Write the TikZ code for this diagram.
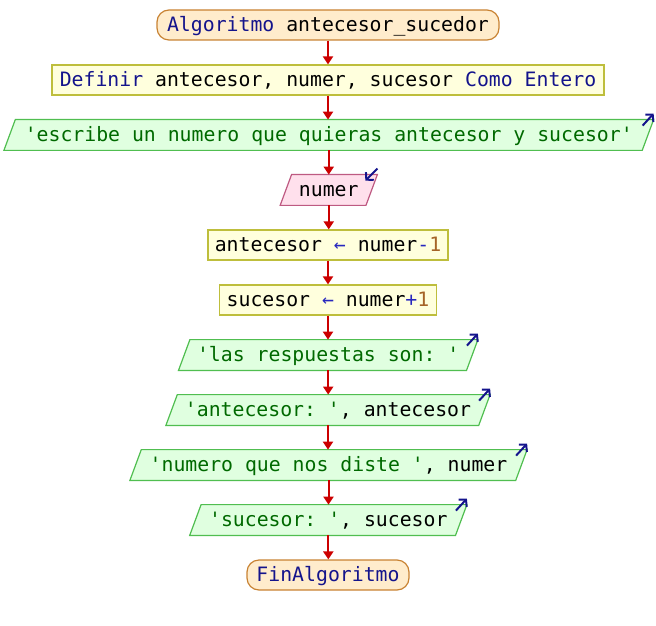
\documentclass[tikz,border=0pt]{standalone}
\usepackage{fontspec}
\setmonofont{DejaVu Sans Mono}
\usepackage{tikz}
\usetikzlibrary{arrows.meta,backgrounds}

\definecolor{kwblue}{RGB}{20,20,140}
\definecolor{opblue}{RGB}{40,40,190}
\definecolor{numbrown}{RGB}{165,100,40}
\definecolor{strgreen}{RGB}{0,105,0}
\definecolor{flowred}{RGB}{204,0,0}
\definecolor{termline}{RGB}{200,130,50}
\definecolor{termfill}{RGB}{255,236,204}
\definecolor{procline}{RGB}{190,190,60}
\definecolor{procfill}{RGB}{255,255,221}
\definecolor{outline}{RGB}{80,190,80}
\definecolor{outfill}{RGB}{224,255,224}
\definecolor{inline}{RGB}{190,90,130}
\definecolor{infill}{RGB}{255,224,236}

\newcommand{\kw}[1]{\textcolor{kwblue}{#1}}
\newcommand{\op}[1]{\textcolor{opblue}{#1}}
\newcommand{\nm}[1]{\textcolor{numbrown}{#1}}
\newcommand{\str}[1]{\textcolor{strgreen}{#1}}

\begin{document}
\begin{tikzpicture}[x=0.5pt,y=-0.5pt,
  every node/.style={font=\ttfamily\fontsize{9.9pt}{12pt}\selectfont,inner sep=0pt,
    minimum height=15pt,text height=8.7pt,text depth=2pt},
  termbox/.style={draw=termline,fill=termfill,rounded corners=6pt,line width=0.6pt,minimum width=#1},
  procbox/.style={draw=procline,fill=procfill,line width=0.6pt,minimum width=#1},
  iobox/.style={minimum width=#1},
  outshape/.style={draw=outline,fill=outfill,line width=0.6pt},
  inshape/.style={draw=inline,fill=infill,line width=0.6pt},
  flow/.style={draw=flowred,line width=1pt,-{Triangle[width=5pt,length=4pt]}},
  ioicon/.style={draw=kwblue,line width=1pt,-{Straight Barb[length=2.5pt,width=5.5pt]}}]
\useasboundingbox (0,0) rectangle (656,625);

\node[termbox=171pt] (start) at (328,25) {\kw{Algoritmo} antecesor\_sucedor};
\node[procbox=276pt] (def) at (328,80) {\kw{Definir} antecesor, numer, sucesor \kw{Como Entero}};
\node[iobox=318.75pt] (out1) at (328.75,135) {\str{'escribe un numero que quieras antecesor y sucesor'}};
\node[iobox=42.5pt] (in) at (328.75,190) {numer};
\node[procbox=120pt] (ant) at (328,245) {antecesor \op{←} numer\op{-}\nm{1}};
\node[procbox=108.5pt] (suc) at (328,300) {sucesor \op{←} numer\op{+}\nm{1}};
\node[iobox=143.6pt] (out2) at (328.2,355) {\str{'las respuestas son: '}};
\node[iobox=156pt] (out3) at (328,410) {\str{'antecesor: '}, antecesor};
\node[iobox=192.5pt] (out4) at (328.5,465) {\str{'numero que nos diste '}, numer};
\node[iobox=132.5pt] (out5) at (328.3,520) {\str{'sucesor: '}, sucesor};
\node[termbox=81pt] (end) at (328,575) {\kw{FinAlgoritmo}};

% slanted boxes behind the texts
\begin{scope}[on background layer]
\foreach \n in {out1,out2,out3,out4,out5}
  \draw[outshape] ([xshift=2.85pt]\n.north west) -- ([xshift=2.85pt]\n.north east)
    -- ([xshift=-2.85pt]\n.south east) -- ([xshift=-2.85pt]\n.south west) -- cycle;
\draw[inshape] ([xshift=2.85pt]in.north west) -- ([xshift=2.85pt]in.north east)
    -- ([xshift=-2.85pt]in.south east) -- ([xshift=-2.85pt]in.south west) -- cycle;
\end{scope}

% read / write marks
\foreach \n in {out1,out2,out3,out4,out5}
  \draw[ioicon] ([shift={(-2.65pt,-3pt)}]\n.north east) -- ([shift={(2.85pt,3pt)}]\n.north east);
\draw[ioicon] ([shift={(2.85pt,3pt)}]in.north east) -- ([shift={(-3.15pt,-3pt)}]in.north east);

\foreach \a/\b in {start/def,def/out1,out1/in,in/ant,ant/suc,suc/out2,out2/out3,out3/out4,out4/out5,out5/end}
  \draw[flow] (\a.south) -- (\a.south |- \b.north);
\end{tikzpicture}
\end{document}
